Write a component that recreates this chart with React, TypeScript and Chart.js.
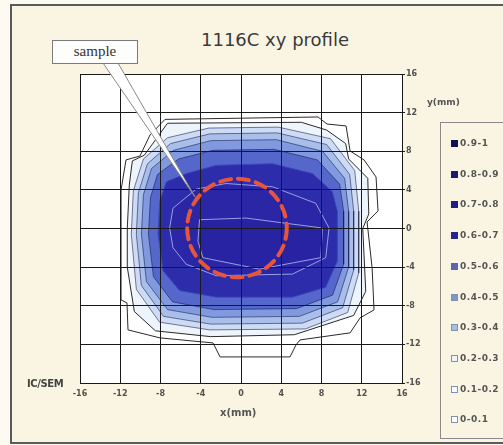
import React, { useEffect, useRef } from 'react';
import { Chart, registerables } from 'chart.js';

Chart.register(...registerables);

// ---- data ----
const xTickValues = [-16, -12, -8, -4, 0, 4, 8, 12, 16];
const yTickValues = [16, 12, 8, 4, 0, -4, -8, -12, -16];

// contour polygons (x mm, y mm), outermost level first
const contour01 = [
  [-7.55, 11.3], [7.66, 11.55], [8.55, 10.82], [10.44, 10.62], [10.84, 8.03], [12.23, 7.1],
  [13.42, 5.34], [13.62, 1.82], [12.53, 0.68], [13.03, -4.08], [13.22, -8.43], [11.83, -9.26],
  [10.84, -10.81], [5.87, -11.54], [5.47, -12.05], [4.87, -13.3], [-2.08, -13.3], [-2.78, -11.85],
  [-8.05, -11.33], [-11.23, -10.5], [-11.33, -7.71], [-11.92, -7.4], [-11.92, 3.99], [-11.43, 7.1],
  [-10.04, 7.51], [-9.04, 9.69],
];
const contour02 = [
  [-11.3, 0], [-11.1, 4.5], [-10.8, 7.0], [-9.6, 7.6], [-7.3, 10.9], [6.0, 11.0], [8.5, 10.2],
  [10.4, 8.8], [10.7, 7.2], [12.6, 5.2], [12.7, 1.5], [12.1, 0.0], [12.4, -6.5], [11.2, -9.0],
  [5.3, -11.0], [-3.0, -11.2], [-8.5, -10.6], [-10.6, -8.6], [-11.3, -4.0],
];
const contour03 = [
  [-10.9, -0.6], [-10.7, 3.9], [-9.7, 7.2], [-7.3, 9.4], [-3.2, 10.4], [3.7, 10.5], [8.9, 9.3],
  [11.3, 6.0], [11.7, 1.8], [11.7, -4.6], [10.6, -8.7], [6.4, -10.4], [-3.1, -10.5], [-8.1, -9.7],
  [-10.4, -6.3],
];
const contour04 = [
  [-10.4, -0.6], [-10.2, 3.7], [-9.3, 6.7], [-7.0, 8.8], [-3.1, 9.8], [3.6, 9.9], [8.5, 8.7],
  [10.8, 5.6], [11.2, 1.8], [11.2, -4.3], [10.1, -8.2], [6.1, -9.8], [-3.0, -9.9], [-7.7, -9.1],
  [-9.9, -5.9],
];
const contour05 = [
  [-9.9, -0.6], [-9.7, 3.5], [-8.9, 6.2], [-6.7, 8.1], [-3.0, 9.1], [3.5, 9.2], [8.1, 8.0],
  [10.3, 5.2], [10.7, 1.8], [10.7, -4.0], [9.6, -7.6], [5.8, -9.1], [-2.9, -9.2], [-7.3, -8.4],
  [-9.4, -5.5],
];
const contour06 = [
  [-9.2, -0.6], [-9.0, 3.2], [-8.3, 5.6], [-6.2, 7.2], [-2.8, 8.1], [3.3, 8.2], [7.6, 7.1],
  [9.8, 4.6], [10.2, 1.8], [10.2, -3.7], [9.1, -6.9], [5.5, -8.3], [-2.7, -8.4], [-6.8, -7.6],
  [-8.7, -5.0],
];
const contour07 = [
  [-8.24, -0.63], [-8.08, 2.78], [-7.42, 4.83], [-5.44, 5.69], [-2.47, 6.54], [3.14, 6.71],
  [7.1, 5.69], [9.08, 3.81], [9.58, 1.76], [9.58, -3.36], [8.42, -6.09], [5.12, -7.11],
  [-2.47, -7.11], [-6.1, -6.43], [-7.75, -4.38],
];
const contour08 = [
  [-7.09, 0.05], [-6.76, 2.1], [-4.45, 4.08], [-1.48, 4.66], [3.14, 4.32], [7.43, 2.61],
  [8.75, 0.05], [8.42, -3.02], [5.12, -4.72], [-2.47, -4.89], [-5.44, -3.7], [-6.76, -1.99],
];
const contour09 = [
  [-4.12, 0.91], [0.5, 1.08], [8.09, 0.05], [7.93, -3.02], [1.82, -4.21], [-3.79, -3.02],
  [-4.28, -1.31],
];

const contours = [contour01, contour02, contour03, contour04, contour05, contour06, contour07, contour08, contour09];
const contourLevels = ['0.1', '0.2', '0.3', '0.4', '0.5', '0.6', '0.7', '0.8', '0.9'];

const legendLabels = ['0.9-1', '0.8-0.9', '0.7-0.8', '0.6-0.7', '0.5-0.6', '0.4-0.5', '0.3-0.4', '0.2-0.3', '0.1-0.2', '0-0.1'];

const sampleCenter = [-0.4, 0.05];
const sampleRadius = [4.95, 5.1];
const calloutTip = [-4.57, 3.27];

// ---- styles ----
const contourFills = ['#ffffff', '#eef4fb', '#cddcf4', '#a9bfeb', '#8199df', '#5567cb', '#2d2caa', '#2a26a6', '#2823a2'];
const contourLines = ['#2a2a2a', '#2a2a2a', 'rgba(20,20,70,0.55)', 'rgba(20,20,70,0.55)', 'rgba(20,20,70,0.55)',
  'rgba(20,20,70,0.55)', 'rgba(60,70,190,0.9)', 'rgba(170,180,240,0.85)', 'rgba(170,180,240,0.85)'];
const legendColors = ['#121250', '#1a1a72', '#1e1e88', '#262690', '#5c64b8', '#7f96cc', '#aabde0', '#eef3fa', '#fafcff', '#ffffff'];

const W = 503;
const H = 445;
// canvas placement on the page
const CV = { left: 60, top: 60, width: 390, height: 360 };
const PLOT = { left: 80, top: 74, right: 402, bottom: 383 };
const Y_AXIS_W = 30;
const X_AXIS_H = 20;

const tickFont = { family: 'DejaVu Sans', size: 8, weight: 'bold' as const };

export default function App() {
  const ref = useRef<HTMLCanvasElement | null>(null);

  useEffect(() => {
    if (!ref.current) return;

    const bgPlugin = {
      id: 'plotBg',
      beforeDraw(chart: any) {
        const { ctx, chartArea } = chart;
        ctx.save();
        ctx.fillStyle = '#ffffff';
        ctx.fillRect(chartArea.left, chartArea.top, chartArea.right - chartArea.left, chartArea.bottom - chartArea.top);
        ctx.restore();
      },
    };

    const overlayPlugin = {
      id: 'overlay',
      afterDraw(chart: any) {
        const { ctx } = chart;
        const xs = chart.scales.x;
        const ys = chart.scales.y;
        const cx = xs.getPixelForValue(sampleCenter[0]);
        const cy = ys.getPixelForValue(sampleCenter[1]);
        const rx = Math.abs(xs.getPixelForValue(sampleCenter[0] + sampleRadius[0]) - cx);
        const ry = Math.abs(ys.getPixelForValue(sampleCenter[1] + sampleRadius[1]) - cy);
        ctx.save();
        ctx.strokeStyle = '#e8563a';
        ctx.lineWidth = 4;
        ctx.lineCap = 'round';
        ctx.setLineDash([11, 7]);
        ctx.beginPath();
        ctx.ellipse(cx, cy, rx, ry, 0, 0, Math.PI * 2);
        ctx.stroke();
        ctx.restore();

        // callout wedge from the "sample" box (box bottom is above the canvas top)
        const tx = xs.getPixelForValue(calloutTip[0]);
        const ty = ys.getPixelForValue(calloutTip[1]);
        ctx.save();
        ctx.beginPath();
        ctx.moveTo(103 - CV.left, 63 - CV.top);
        ctx.lineTo(tx, ty);
        ctx.lineTo(118 - CV.left, 63 - CV.top);
        ctx.closePath();
        ctx.fillStyle = '#ffffff';
        ctx.fill();
        ctx.strokeStyle = '#8a8a8a';
        ctx.lineWidth = 1;
        ctx.stroke();
        ctx.restore();
      },
    };

    const datasets = contours.map((poly, i) => ({
      label: contourLevels[i],
      data: [...poly, poly[0]].map(([x, y]) => ({ x, y })),
      showLine: true,
      fill: 'shape',
      backgroundColor: contourFills[i],
      borderColor: contourLines[i],
      borderWidth: 1,
      pointRadius: 0,
      tension: 0,
      order: contours.length - i,
    }));

    const chart = new Chart(ref.current, {
      type: 'scatter',
      data: { datasets: datasets as any },
      plugins: [bgPlugin, overlayPlugin],
      options: {
        animation: false,
        responsive: false,
        devicePixelRatio: 1,
        layout: {
          padding: {
            left: PLOT.left - CV.left,
            top: PLOT.top - CV.top,
            right: CV.left + CV.width - PLOT.right - Y_AXIS_W,
            bottom: CV.top + CV.height - PLOT.bottom - X_AXIS_H,
          },
        },
        plugins: {
          legend: { display: false },
          tooltip: { enabled: false },
          title: { display: false },
        },
        scales: {
          x: {
            type: 'linear',
            min: -16,
            max: 16,
            afterBuildTicks: (s: any) => {
              s.ticks = xTickValues.map((v) => ({ value: v }));
            },
            afterFit: (s: any) => {
              s.height = X_AXIS_H;
              s.paddingLeft = 0;
              s.paddingRight = 0;
            },
            grid: { color: '#1a1a1a', lineWidth: 1, z: 1, drawTicks: false },
            border: { display: true, color: '#1a1a1a', z: 2 },
            ticks: {
              font: tickFont,
              color: '#505050',
              padding: 6,
              maxRotation: 0,
              autoSkip: false,
              callback: (v: any) => String(v),
            },
          },
          y: {
            type: 'linear',
            position: 'right',
            min: -16,
            max: 16,
            afterBuildTicks: (s: any) => {
              s.ticks = yTickValues.slice().reverse().map((v) => ({ value: v }));
            },
            afterFit: (s: any) => {
              s.width = Y_AXIS_W;
              s.paddingTop = 0;
              s.paddingBottom = 0;
            },
            grid: { color: '#1a1a1a', lineWidth: 1, z: 1, drawTicks: true, tickLength: 3 },
            border: { display: true, color: '#1a1a1a', z: 2 },
            ticks: {
              font: tickFont,
              color: '#505050',
              padding: 1,
              autoSkip: false,
              callback: (v: any) => String(v),
            },
          },
        },
      } as any,
    });

    return () => chart.destroy();
  }, []);

  const sans = '"DejaVu Sans", sans-serif';

  return (
    <div
      style={{
        position: 'fixed', left: 0, top: 0, width: W, height: H, overflow: 'hidden',
        background: '#fcfaf1',
      }}
    >
      <div
        style={{
          position: 'absolute', left: 10, top: 4, width: 520, height: 436,
          border: '2px solid #5a5a5a', background: '#faf5e2',
        }}
      />
      <canvas
        ref={ref}
        width={CV.width}
        height={CV.height}
        style={{ position: 'absolute', left: CV.left, top: CV.top, width: CV.width, height: CV.height }}
      />
      <div
        style={{
          position: 'absolute', left: 165, top: 29, width: 220, textAlign: 'center',
          fontFamily: sans, fontSize: 18, color: '#3a3a3a', lineHeight: '22px',
        }}
      >
        1116C xy profile
      </div>
      <div
        style={{
          position: 'absolute', left: 52, top: 40, width: 84, height: 22,
          border: '1px solid #7a7a7a', background: '#fdfdfb',
          fontFamily: '"Liberation Serif", "DejaVu Serif", serif', fontSize: 15, color: '#333',
          lineHeight: '20px', textAlign: 'center',
        }}
      >
        sample
      </div>
      <div
        style={{
          position: 'absolute', left: 427, top: 97, fontFamily: sans, fontSize: 9,
          fontWeight: 'bold', color: '#555', lineHeight: '11px',
        }}
      >
        y(mm)
      </div>
      <div
        style={{
          position: 'absolute', left: 220, top: 407, fontFamily: sans, fontSize: 10,
          fontWeight: 'bold', color: '#555', lineHeight: '12px',
        }}
      >
        x(mm)
      </div>
      <div
        style={{
          position: 'absolute', left: 27, top: 378, fontFamily: sans, fontSize: 10,
          fontWeight: 'bold', color: '#444', lineHeight: '12px', letterSpacing: -0.4,
        }}
      >
        IC/SEM
      </div>
      <div
        style={{
          position: 'absolute', left: 440, top: 122, width: 90, height: 315,
          border: '1px solid #8a8a8a', background: '#faf5e2',
        }}
      >
        {legendLabels.map((lab, i) => (
          <div
            key={lab}
            style={{
              position: 'absolute', left: 10, top: 15 + i * 30.7, height: 11, display: 'flex',
              alignItems: 'center', whiteSpace: 'nowrap',
            }}
          >
            <span
              style={{
                display: 'inline-block', width: 5, height: 5, background: legendColors[i],
                border: '1px solid ' + (i < 5 ? legendColors[i] : '#8090b0'), marginRight: 2,
              }}
            />
            <span
              style={{
                fontFamily: sans, fontSize: 9, fontWeight: 'bold', color: '#555',
                lineHeight: '11px', letterSpacing: 0.5,
              }}
            >
              {lab}
            </span>
          </div>
        ))}
      </div>
    </div>
  );
}
